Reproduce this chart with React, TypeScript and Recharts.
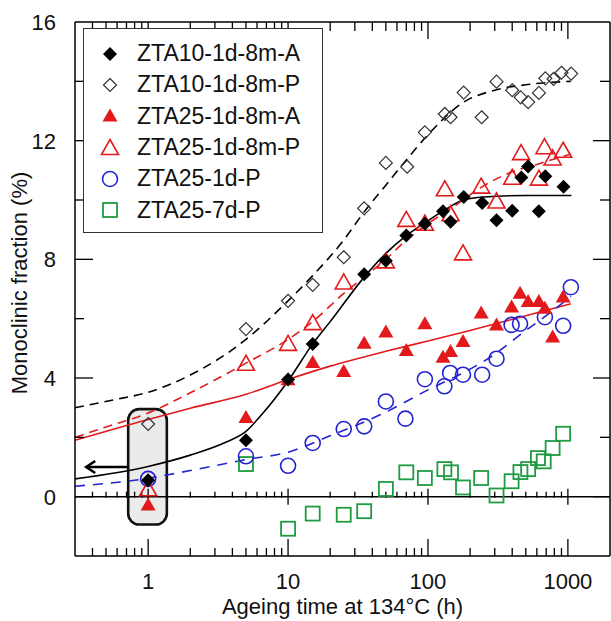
import React from 'react';
import { ComposedChart, Scatter, Line, XAxis, YAxis, ReferenceLine, ReferenceArea, Legend } from 'recharts';

// [ageing time (h), monoclinic fraction (%)]
const zta10A: [number, number][] = [
  [1, 0.55], [5, 1.9], [10, 3.95], [15, 5.15], [35, 7.5], [50, 7.95], [70, 8.8], [95, 9.2],
  [128, 9.62], [145, 9.27], [180, 10.1], [244, 9.9], [309, 9.32], [400, 9.64], [465, 10.76],
  [520, 11.13], [620, 9.62], [690, 10.8], [930, 10.45],
];
const zta10P: [number, number][] = [
  [1, 2.45], [5, 5.65], [10, 6.6], [15, 7.14], [25, 8.07], [35, 9.72], [50, 11.25], [71, 11.12],
  [95, 12.28], [132, 12.9], [145, 12.79], [180, 13.62], [242, 12.79], [309, 13.99], [400, 13.7],
  [460, 13.46], [520, 13.3], [621, 13.61], [690, 14.1], [790, 14.08], [900, 14.29], [1055, 14.26],
];
const zta25A: [number, number][] = [
  [1, -0.28], [5, 2.67], [10, 3.94], [15, 4.52], [25, 4.22], [35, 5.17], [50, 5.55], [70, 4.93],
  [95, 5.83], [128, 4.7], [145, 4.89], [178, 5.23], [240, 6.19], [309, 5.79], [396, 6.39],
  [455, 6.86], [520, 6.58], [620, 6.58], [685, 6.35], [778, 5.38], [925, 6.73],
];
const zta25P: [number, number][] = [
  [1, 0.25], [5, 4.48], [10, 5.15], [15, 5.85], [25, 7.22], [50, 7.93], [70, 9.33], [95, 9.2],
  [132, 10.36], [145, 9.52], [178, 8.2], [240, 10.45], [309, 9.95], [400, 10.75], [463, 11.58],
  [621, 10.72], [680, 11.78], [778, 11.4], [925, 11.66],
];
const zta25_1dP: [number, number][] = [
  [1, 0.6], [5, 1.36], [10, 1.04], [15, 1.81], [25, 2.28], [35, 2.37], [50, 3.21], [69, 2.63],
  [95, 3.96], [131, 3.72], [144, 4.17], [178, 4.11], [244, 4.11], [309, 4.65], [396, 5.79],
  [455, 5.83], [685, 6.05], [925, 5.76], [1050, 7.06],
];
const zta25_7dP: [number, number][] = [
  [5, 1.1], [10, -1.08], [15, -0.57], [25, -0.61], [35, -0.49], [50, 0.26], [70, 0.82], [95, 0.63],
  [131, 0.93], [146, 0.82], [178, 0.31], [240, 0.63], [309, 0.04], [396, 0.52], [458, 0.83],
  [520, 0.93], [611, 1.3], [672, 1.19], [778, 1.64], [925, 2.12],
];

// fitted curves
const fit10P: [number, number][] = [
  [0.3, 3.0], [0.55, 3.25], [1, 3.52], [2, 4.1], [5, 5.3], [10, 6.6], [15, 7.45], [25, 8.65],
  [35, 9.6], [50, 10.5], [70, 11.35], [100, 12.2], [180, 13.3], [300, 13.7], [535, 13.9], [1050, 14.0],
];
const fit10A: [number, number][] = [
  [0.3, 0.6], [1, 1.02], [2, 1.4], [3.65, 1.85], [5, 2.2], [6.3, 2.7], [10, 3.9], [15, 5.15],
  [20, 5.9], [35, 7.4], [50, 8.2], [70, 8.8], [100, 9.3], [130, 9.65], [180, 10.0], [250, 10.1],
  [500, 10.15], [1060, 10.15],
];
const fit25P: [number, number][] = [
  [0.3, 2.0], [0.5, 2.35], [1, 2.82], [2, 3.5], [5, 4.5], [10, 5.3], [15, 5.9], [25, 6.85], [35, 7.4],
  [50, 8.0], [70, 8.65], [100, 9.2], [150, 9.75], [235, 10.4], [400, 10.95], [600, 11.2], [1050, 11.55],
];
const fit25A: [number, number][] = [
  [0.3, 1.9], [1, 2.6], [2, 2.98], [5, 3.45], [10, 3.95], [20, 4.4], [50, 4.9], [100, 5.25],
  [200, 5.6], [500, 6.1], [1050, 6.5],
];
const fit25_1dP: [number, number][] = [
  [0.3, 0.35], [1, 0.62], [2, 0.88], [5, 1.25], [10, 1.5], [20, 2.05], [50, 2.85], [100, 3.6],
  [200, 4.3], [300, 4.8], [400, 5.25], [500, 5.6], [700, 6.1], [1050, 6.75],
];

const xTicks = [
  0.4, 0.5, 0.6, 0.7, 0.8, 0.9, 1, 2, 3, 4, 5, 6, 7, 8, 9, 10, 20, 30, 40, 50, 60, 70, 80, 90,
  100, 200, 300, 400, 500, 600, 700, 800, 900, 1000,
];
const xLabelTicks = [1, 10, 100, 1000];
const yTicks = [0, 2, 4, 6, 8, 10, 12, 14];
const yLabelTicks = [0, 4, 8, 12, 16];

// highlighted 1 h group and the arrow pointing to the intercept
const boxX = [0.72, 1.36];
const boxY = [-0.94, 2.95];
const arrowX = [0.72, 0.355];
const arrowY = 1.0;

const FONT = '"Liberation Sans", Arial, sans-serif';
const RED = '#e31a1c';
const BLUE = '#2323d2';
const GREEN = '#1f9b42';

const toPts = (a: [number, number][]) => a.map(([x, y]) => ({ x, y }));

function Marker({ kind, cx, cy }: { kind: string; cx: number; cy: number }) {
  switch (kind) {
    case 'diamondFilled':
      return <polygon points={`${cx},${cy - 7} ${cx + 7},${cy} ${cx},${cy + 7} ${cx - 7},${cy}`} fill="#000" />;
    case 'diamondOpen':
      return <polygon points={`${cx},${cy - 6.5} ${cx + 6.5},${cy} ${cx},${cy + 6.5} ${cx - 6.5},${cy}`} fill="none" stroke="#333" strokeWidth={1.2} />;
    case 'triangleFilled':
      return <polygon points={`${cx},${cy - 7.5} ${cx + 7.5},${cy + 5.5} ${cx - 7.5},${cy + 5.5}`} fill={RED} />;
    case 'triangleOpen':
      return <polygon points={`${cx},${cy - 8.5} ${cx + 8.5},${cy + 6.5} ${cx - 8.5},${cy + 6.5}`} fill="none" stroke={RED} strokeWidth={1.6} />;
    case 'circleOpen':
      return <circle cx={cx} cy={cy} r={7.5} fill="none" stroke={BLUE} strokeWidth={1.6} />;
    default:
      return <rect x={cx - 7} y={cy - 7} width={14} height={14} fill="none" stroke={GREEN} strokeWidth={1.8} />;
  }
}

const series = [
  { name: 'ZTA25-7d-P', data: zta25_7dP, kind: 'square' },
  { name: 'ZTA25-1d-P', data: zta25_1dP, kind: 'circleOpen' },
  { name: 'ZTA25-1d-8m-P', data: zta25P, kind: 'triangleOpen' },
  { name: 'ZTA25-1d-8m-A', data: zta25A, kind: 'triangleFilled' },
  { name: 'ZTA10-1d-8m-P', data: zta10P, kind: 'diamondOpen' },
  { name: 'ZTA10-1d-8m-A', data: zta10A, kind: 'diamondFilled' },
];
const legendOrder = [
  'ZTA10-1d-8m-A', 'ZTA10-1d-8m-P', 'ZTA25-1d-8m-A', 'ZTA25-1d-8m-P', 'ZTA25-1d-P', 'ZTA25-7d-P',
];

const fits = [
  { key: 'f10P', data: fit10P, color: '#000', dash: '9 6' },
  { key: 'f10A', data: fit10A, color: '#000', dash: undefined },
  { key: 'f25P', data: fit25P, color: RED, dash: '9 6' },
  { key: 'f25A', data: fit25A, color: RED, dash: undefined },
  { key: 'f25_1dP', data: fit25_1dP, color: BLUE, dash: '10 8' },
];

const BottomTick = (p: any) => {
  const major = xLabelTicks.includes(p.payload.value);
  return (
    <g>
      <line x1={p.x} x2={p.x} y1={p.y} y2={p.y - (major ? 17 : 8)} stroke="#000" strokeWidth={1.3} />
      {major && (
        <text x={p.x} y={p.y + 33} textAnchor="middle" fontSize={22} fontFamily={FONT} fill="#111">
          {p.payload.value}
        </text>
      )}
    </g>
  );
};

const TopTick = (p: any) => {
  const major = xLabelTicks.includes(p.payload.value);
  return <line x1={p.x} x2={p.x} y1={p.y} y2={p.y + (major ? 17 : 9)} stroke="#000" strokeWidth={1.3} />;
};

const LeftTick = (p: any) => {
  const v = p.payload.value;
  const major = yLabelTicks.includes(v);
  return (
    <g>
      {v < 16 && <line x1={p.x} x2={p.x + (major ? 18 : 9)} y1={p.y} y2={p.y} stroke="#000" strokeWidth={1.3} />}
      {major && (
        <text x={p.x - 19} y={p.y + 8} textAnchor="end" fontSize={22} fontFamily={FONT} fill="#111">
          {v}
        </text>
      )}
    </g>
  );
};

const RightTick = (p: any) => {
  const major = yLabelTicks.includes(p.payload.value);
  return <line x1={p.x} x2={p.x - (major ? 17 : 10)} y1={p.y} y2={p.y} stroke="#000" strokeWidth={1.3} />;
};

const ZeroTick = (p: any) => {
  const major = xLabelTicks.includes(p.payload.x);
  return <line x1={p.cx} x2={p.cx} y1={p.cy - (major ? 8 : 5)} y2={p.cy + (major ? 8 : 1)} stroke="#000" strokeWidth={1.3} />;
};

const XTitle = (p: any) => {
  const vb = p.viewBox || { x: 75, y: 556, width: 535, height: 65 };
  return (
    <text x={vb.x + vb.width / 2} y={vb.y + 58} textAnchor="middle" fontSize={22} fontFamily={FONT} fill="#111">
      Ageing time at 134°C (h)
    </text>
  );
};

const YTitle = (p: any) => {
  const vb = p.viewBox || { x: 0, y: 22, width: 75, height: 534 };
  return (
    <text
      transform={`translate(${vb.x + 19},${vb.y + vb.height / 2 - 6}) rotate(-90)`}
      textAnchor="middle"
      dominantBaseline="central"
      fontSize={22}
      fontFamily={FONT}
      fill="#111"
    >
      Monoclinic fraction (%)
    </text>
  );
};

const LegendBox = () => (
  <div
    style={{
      width: 240, height: 205, boxSizing: 'border-box', border: '1.5px solid #333', background: '#fff',
      paddingTop: 9, fontFamily: FONT, fontSize: 23, color: '#111',
    }}
  >
    {legendOrder.map((name) => {
      const s = series.find((d) => d.name === name)!;
      return (
        <div key={name} style={{ height: 31.3, display: 'flex', alignItems: 'center' }}>
          <svg width={24} height={24} style={{ marginLeft: 14 }}>
            <Marker kind={s.kind} cx={12} cy={12} />
          </svg>
          <span style={{ marginLeft: 15, whiteSpace: 'nowrap' }}>{name}</span>
        </div>
      );
    })}
  </div>
);

const ArrowShape = (p: any) => {
  const tip = Math.min(p.x1, p.x2);
  const tail = Math.max(p.x1, p.x2);
  const y = p.y1;
  return (
    <g>
      <line x1={tail} x2={tip + 2} y1={y} y2={y} stroke="#000" strokeWidth={2.6} />
      <polyline points={`${tip + 10},${y - 6} ${tip + 1},${y} ${tip + 10},${y + 6}`} fill="none" stroke="#000" strokeWidth={2.6} />
    </g>
  );
};

const BoxShape = (p: any) => (
  <rect x={p.x} y={p.y} width={p.width} height={p.height} rx={11} ry={11} fill="#ebebeb" stroke="#111" strokeWidth={2.6} />
);

export default function App() {
  const zeroTicks = xTicks.map((t) => ({ x: t, y: 0 }));
  return (
    <div style={{ position: 'absolute', left: 0, top: 0 }}>
      <ComposedChart
        width={611}
        height={621}
        margin={{ top: 21, right: 0, bottom: 0, left: 0 }}
        style={{ fontFamily: FONT, background: '#fff' }}
      >
        <XAxis
          dataKey="x"
          type="number"
          scale="log"
          domain={[0.3, 2000]}
          allowDataOverflow
          ticks={xTicks}
          interval={0}
          tickSize={0}
          tickMargin={0}
          tickLine={false}
          tick={<BottomTick />}
          height={65}
          axisLine={{ stroke: '#000', strokeWidth: 1.5 }}
          label={<XTitle />}
        />
        <XAxis
          xAxisId="top"
          orientation="top"
          dataKey="x"
          type="number"
          scale="log"
          domain={[0.3, 2000]}
          allowDataOverflow
          ticks={xTicks}
          interval={0}
          tickSize={0}
          tickMargin={0}
          tickLine={false}
          tick={<TopTick />}
          height={1}
          axisLine={{ stroke: '#000', strokeWidth: 1.5 }}
        />
        <YAxis
          dataKey="y"
          type="number"
          domain={[-2, 16]}
          allowDataOverflow
          ticks={[...yTicks, 16]}
          interval={0}
          tickSize={0}
          tickMargin={0}
          tickLine={false}
          tick={<LeftTick />}
          width={75}
          axisLine={{ stroke: '#000', strokeWidth: 1.5 }}
          label={<YTitle />}
        />
        <YAxis
          yAxisId="r"
          orientation="right"
          type="number"
          domain={[-2, 16]}
          allowDataOverflow
          ticks={yTicks}
          interval={0}
          tickSize={0}
          tickMargin={0}
          tickLine={false}
          tick={<RightTick />}
          width={1}
          axisLine={{ stroke: '#000', strokeWidth: 1.5 }}
        />
        <ReferenceArea x1={boxX[0]} x2={boxX[1]} y1={boxY[0]} y2={boxY[1]} shape={BoxShape} />
        <ReferenceLine y={0} stroke="#000" strokeWidth={1.5} />
        <Scatter data={zeroTicks} shape={ZeroTick} legendType="none" isAnimationActive={false} />
        {fits.map((f) => (
          <Line
            key={f.key}
            data={toPts(f.data)}
            dataKey="y"
            type="monotone"
            stroke={f.color}
            strokeWidth={1.6}
            strokeDasharray={f.dash}
            dot={false}
            activeDot={false}
            legendType="none"
            isAnimationActive={false}
          />
        ))}
        <ReferenceLine
          segment={[{ x: arrowX[0], y: arrowY }, { x: arrowX[1], y: arrowY }]}
          shape={ArrowShape}
        />
        {series.map((s) => (
          <Scatter
            key={s.name}
            name={s.name}
            data={toPts(s.data)}
            dataKey="y"
            shape={(p: any) => <Marker kind={s.kind} cx={p.cx} cy={p.cy} />}
            isAnimationActive={false}
          />
        ))}
        <Legend
          layout="vertical"
          align="center"
          verticalAlign="middle"
          wrapperStyle={{ left: 83, top: 28, width: 240, height: 205 }}
          content={() => <LegendBox />}
        />
      </ComposedChart>
    </div>
  );
}
